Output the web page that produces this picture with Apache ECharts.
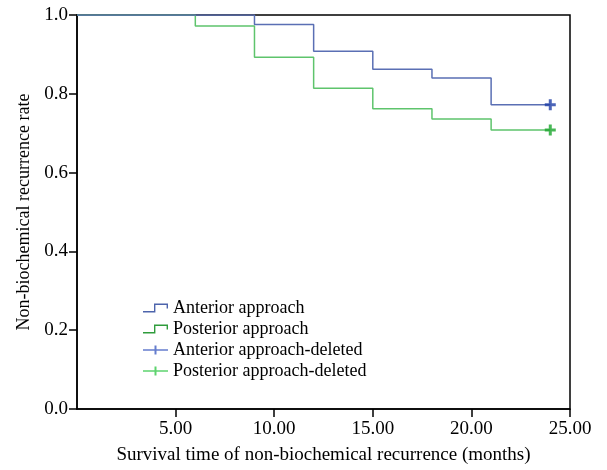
<!DOCTYPE html>
<html>
<head>
<meta charset="utf-8">
<script src="https://cdn.jsdelivr.net/npm/echarts@6/dist/echarts.min.js"></script>
<style>
html,body{margin:0;padding:0;background:#fff}
#chart{width:607px;height:470px}
</style>
</head>
<body>
<div id="chart"></div>
<script>
// survival steps
let anteriorTimes = [0, 9, 12, 15, 18, 21, 24]
let anteriorRates = [1.0, 0.976, 0.908, 0.862, 0.840, 0.772, 0.772]
let posteriorTimes = [0, 6, 9, 12, 15, 18, 21, 24]
let posteriorRates = [1.0, 0.972, 0.893, 0.814, 0.762, 0.736, 0.708, 0.708]
let anteriorCensored = [[24, 0.772]]
let posteriorCensored = [[24, 0.708]]
let xTicks = [5, 10, 15, 20, 25]
let legendNames = ["Anterior approach", "Posterior approach", "Anterior approach-deleted", "Posterior approach-deleted"]

let font = "'Liberation Serif','DejaVu Serif',serif"
// legend icons drawn in a 25x9 box
let stepIcon = "path://M0,7.6 L11,7.6 L11,0 L25,0 L25,5 L23.6,5 L23.6,1.4 L12.4,1.4 L12.4,9 L0,9 Z"
let plusLegend = "path://M0,3.8 L11.5,3.8 L11.5,0 L13.5,0 L13.5,3.8 L25,3.8 L25,5.2 L13.5,5.2 L13.5,9 L11.5,9 L11.5,5.2 L0,5.2 Z"
// censor mark on the plot
let plusMark = "path://M4,0 L7,0 L7,4 L11,4 L11,7 L7,7 L7,11 L4,11 L4,7 L0,7 L0,4 L4,4 Z"

function pairs(xs, ys) {
	return xs.map((x, i) => [x, ys[i]])
}

var myChart = echarts.init(document.getElementById("chart"))
myChart.setOption({
	animation: false,
	textStyle: { fontFamily: font },
	grid: {
		left: 77,
		right: 37,
		top: 15,
		bottom: 55,
		show: true,
		borderColor: "#000",
		borderWidth: 1.5
	},
	legend: {
		orient: "vertical",
		left: 143,
		top: 299,
		padding: 0,
		itemWidth: 25,
		itemHeight: 9,
		itemGap: 3,
		textStyle: { fontFamily: font, fontSize: 18, color: "#000" },
		data: [
			{ name: legendNames[0], icon: stepIcon, itemStyle: { color: "#4d64ac" } },
			{ name: legendNames[1], icon: stepIcon, itemStyle: { color: "#2f9c3c" } },
			{ name: legendNames[2], icon: plusLegend, itemStyle: { color: "#3f5cc0" } },
			{ name: legendNames[3], icon: plusLegend, itemStyle: { color: "#34c84a" } }
		]
	},
	xAxis: {
		type: "value",
		min: 0,
		max: 25,
		interval: 5,
		name: "Survival time of non-biochemical recurrence (months)",
		nameLocation: "middle",
		nameGap: 37,
		nameTextStyle: { fontFamily: font, fontSize: 19, color: "#000" },
		axisLine: { lineStyle: { color: "#000", width: 1.5 } },
		axisTick: { customValues: xTicks, length: 8, lineStyle: { color: "#000", width: 1.5 } },
		axisLabel: {
			customValues: xTicks,
			margin: 11,
			fontSize: 19,
			color: "#000",
			formatter: v => v.toFixed(2)
		},
		splitLine: { show: false }
	},
	yAxis: {
		type: "value",
		min: 0,
		max: 1,
		interval: 0.2,
		name: "Non-biochemical recurrence rate",
		nameLocation: "middle",
		nameGap: 44,
		nameTextStyle: { fontFamily: font, fontSize: 18, color: "#000" },
		axisLine: { show: true, lineStyle: { color: "#000", width: 1.5 } },
		axisTick: { show: true, length: 8, lineStyle: { color: "#000", width: 1.5 } },
		axisLabel: {
			margin: 9,
			fontSize: 19,
			color: "#000",
			formatter: v => v.toFixed(1)
		},
		splitLine: { show: false }
	},
	series: [
		{
			name: legendNames[0],
			type: "line",
			step: "end",
			showSymbol: false,
			data: pairs(anteriorTimes, anteriorRates),
			lineStyle: { color: "#5a6fb4", width: 1.5 },
			itemStyle: { color: "#5a6fb4" },
			z: 3
		},
		{
			name: legendNames[1],
			type: "line",
			step: "end",
			showSymbol: false,
			data: pairs(posteriorTimes, posteriorRates),
			lineStyle: { color: "#5ec46c", width: 1.5 },
			itemStyle: { color: "#5ec46c" },
			z: 2
		},
		{
			name: legendNames[2],
			type: "scatter",
			symbol: plusMark,
			symbolSize: 11,
			data: anteriorCensored,
			itemStyle: { color: "#1f3fa6" },
			z: 4
		},
		{
			name: legendNames[3],
			type: "scatter",
			symbol: plusMark,
			symbolSize: 11,
			data: posteriorCensored,
			itemStyle: { color: "#1aa52c" },
			z: 4
		}
	]
})
</script>
</body>
</html>
